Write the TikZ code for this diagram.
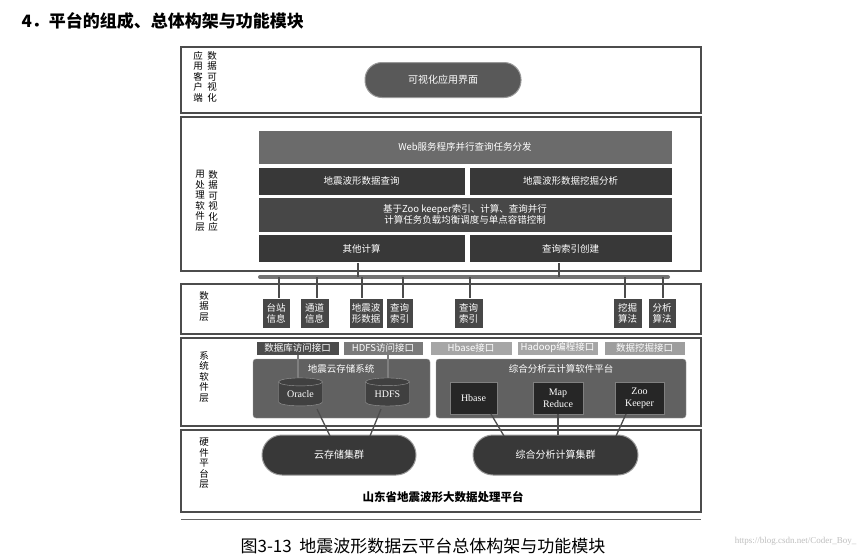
\documentclass[tikz,border=0pt]{standalone}
\usepackage{fontspec}
\setmainfont{Liberation Serif}
\newfontfamily\cjk{Noto Sans CJK SC}
\usetikzlibrary{shapes.geometric}
\begin{document}
\begin{tikzpicture}[x=1pt,y=-1pt,
  layer/.style={draw=black!70,line width=1.2pt,fill=white},
  lbl/.style={font=\cjk\fontsize{9.5}{10.5}\selectfont,align=center,inner sep=0,anchor=north},
  bx/.style={draw=white,line width=0.6pt,text=white,font=\cjk\fontsize{9.5}{11.5}\selectfont,align=center,inner sep=0},
  ln/.style={draw=black!70,line width=1.3pt},
  pill/.style={fill=black!65,draw=black!40,line width=1pt,rounded corners=17pt,text=white,font=\cjk\fontsize{10}{12}\selectfont,inner sep=0},
  cyl/.style={cylinder,shape border rotate=90,aspect=0.3,draw=black!40,fill=black!75,text=white,font=\fontsize{10}{12}\selectfont,minimum width=44pt,minimum height=28pt,inner sep=0}]
\useasboundingbox (0,0) rectangle (861,557);
\fill[white] (0,0) rectangle (861,557);
\node[anchor=west,font=\cjk\bfseries\fontsize{17}{19}\selectfont] (title) at (18,21) {4．平台的组成、总体构架与功能模块};
% layers
\draw[layer] (181,47) rectangle (701,113);
\draw[layer] (181,117) rectangle (701,271);
\draw[layer] (181,284) rectangle (701,334);
\draw[layer] (181,338) rectangle (701,426);
\draw[layer] (181,430) rectangle (701,512);
\draw[black!60,line width=1pt] (181,519) -- (701,519);
% layer labels
\node[lbl] (l1a) at (198,51) {应\\用\\客\\户\\端};
\node[lbl] (l1b) at (212,51) {数\\据\\可\\视\\化};
\node[lbl] (l2a) at (200,170) {用\\处\\理\\软\\件\\层};
\node[lbl] (l2b) at (213,170) {数\\据\\可\\视\\化\\应};
\node[lbl] (l3) at (204,291) {数\\据\\层};
\node[lbl] (l4) at (204,351) {系\\统\\软\\件\\层};
\node[lbl] (l5) at (204,438) {硬\\件\\平\\台\\层};
% app layer
\node[pill,minimum width=156pt,minimum height=35pt] (vis) at (443,80) {可视化应用界面};
% processing
\node[bx,fill=black!58,minimum width=414pt,minimum height=34pt] (web) at (465,147) {Web服务程序并行查询任务分发};
\node[bx,fill=black!78,minimum width=207pt,minimum height=28pt] (q) at (361.5,181) {地震波形数据查询};
\node[bx,fill=black!78,minimum width=203pt,minimum height=28pt] (m) at (570.5,181) {地震波形数据挖掘分析};
\node[bx,fill=black!72,minimum width=414pt,minimum height=35pt] (zk) at (465,214.5) {基于Zoo keeper索引、计算、查询并行\\计算任务负载均衡调度与单点容错控制};
\node[bx,fill=black!78,minimum width=207pt,minimum height=28pt] (oc) at (361.5,248.5) {其他计算};
\node[bx,fill=black!78,minimum width=203pt,minimum height=28pt] (qi) at (570.5,248.5) {查询索引创建};
% bus
\draw[black!55,line width=4pt,line cap=round] (260,277) coordinate (busL) -- (668,277) coordinate (busR);
\draw[ln] (oc.south -| 358,0) -- (358,277);
\draw[ln] (qi.south -| 559,0) -- (559,277);
% data layer
\foreach \n/\x/\w/\t in {d1/276/28/台站\\信息, d2/314.5/29/通道\\信息, d3/366/34/地震波\\形数据, d4/399.5/27/查询\\索引, d5/468.5/29/查询\\索引, d6/627.5/29/挖掘\\算法, d7/662/28/分析\\算法}{
  \node[bx,fill=black!72,minimum width=\w pt,minimum height=30pt] (\n) at (\x,313.5) {\t};
}
\foreach \n/\x in {d1/279,d2/317,d3/362,d4/403,d5/470,d6/625,d7/663}{
  \draw[ln] (\x,277) -- (\n.north -| \x,0);
}
% interfaces
\node[bx,fill=black!70,minimum width=83pt,minimum height=14pt] (i1) at (297.5,348) {数据库访问接口};
\node[bx,fill=black!52,minimum width=80pt,minimum height=14pt] (i2) at (383,348) {HDFS访问接口};
\node[bx,fill=black!35,minimum width=82pt,minimum height=14pt] (i3) at (471,348) {Hbase接口};
\node[bx,fill=black!35,minimum width=81pt,minimum height=14pt] (i4) at (557.5,348) {Hadoop编程接口};
\node[bx,fill=black!38,minimum width=81pt,minimum height=14pt] (i5) at (644.5,348) {数据挖掘接口};
% panels
\draw[fill=black!62,draw=black!40,rounded corners=3pt] (253,359) rectangle (430,418);
\node[lbl,anchor=center,text=white] (st) at (341,369) {地震云存储系统};
\draw[fill=black!62,draw=black!40,rounded corners=3pt] (436,359) rectangle (686,418);
\node[lbl,anchor=center,text=white] (ct) at (561,369) {综合分析云计算软件平台};
\draw[ln,black!50] (298,355) -- (298,385);
\draw[ln,black!50] (388,355) -- (388,385);
\node[cyl] (ora) at (300.5,394) {Oracle};
\node[cyl] (hdfs) at (387.5,394) {HDFS};
\node[bx,fill=black!85,draw=black!50,minimum width=47pt,minimum height=32pt,font=\fontsize{10}{12}\selectfont] (hb) at (473.5,398) {Hbase};
\node[bx,fill=black!85,draw=black!50,minimum width=50pt,minimum height=32pt,font=\fontsize{10}{12}\selectfont] (mr) at (558,398) {Map\\Reduce};
\node[bx,fill=black!85,draw=black!50,minimum width=49pt,minimum height=32pt,font=\fontsize{10}{12}\selectfont] (zo) at (639.5,398) {Zoo\\Keeper};
% hardware
\node[pill,fill=black!78,rounded corners=20pt,minimum width=154pt,minimum height=40pt] (c1) at (339,455) {云存储集群};
\node[pill,fill=black!78,rounded corners=20pt,minimum width=165pt,minimum height=40pt] (c2) at (555.5,455) {综合分析计算集群};
\draw[ln] (317,409) -- (330,436);
\draw[ln] (381,409) -- (370,436);
\draw[ln] (491,414) -- (504,436);
\draw[ln] (558,414) -- (558,435);
\draw[ln] (626,414) -- (616,436);
\node[font=\cjk\bfseries\fontsize{11.5}{13}\selectfont] (plat) at (443,497) {山东省地震波形大数据处理平台};
\node[font=\fontsize{9}{10}\selectfont,text=black!25,anchor=east] (wm) at (860,541) {https://blog.csdn.net/Coder\_Boy\_};
\node[font=\cjk\fontsize{17}{18}\selectfont] (cap) at (423,546) {图3-13\ \ 地震波形数据云平台总体构架与功能模块};
\end{tikzpicture}
\end{document}
